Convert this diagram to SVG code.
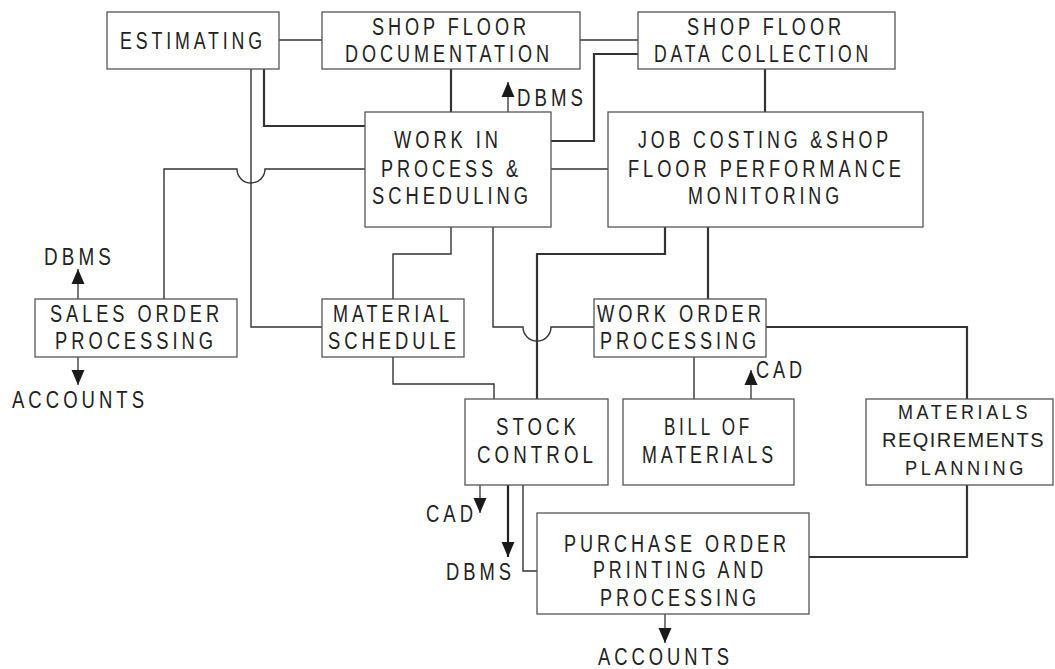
<svg xmlns="http://www.w3.org/2000/svg" width="1055" height="669" viewBox="0 0 1055 669">
<defs>
<style>
.box{fill:#fff;stroke:#555;stroke-width:1.3}
.t{font-family:"Liberation Sans Narrow","Liberation Sans",Arial,sans-serif;font-size:23px;fill:#222;letter-spacing:5px}
.s{font-size:20px;letter-spacing:4px}
.c{fill:none;stroke:#333;stroke-width:1.4}
.k{fill:none;stroke:#333;stroke-width:2.2}
.a{fill:none;stroke:#333;stroke-width:1.3}
.ak{fill:none;stroke:#222;stroke-width:2.2}
</style>
<marker id="ah" markerUnits="userSpaceOnUse" markerWidth="16" markerHeight="14" refX="15" refY="7" orient="auto">
<path d="M0,0.5 L15,7 L0,13.5 z" fill="#1a1a1a"/>
</marker>
</defs>
<rect width="1055" height="669" fill="#fff"/>
<g id="connectors">
<path class="c" d="M279,40 H322"/>
<path class="c" d="M580,40 H638"/>
<path class="k" d="M264,69 V126 H365"/>
<path class="c" d="M251,69 V327 H322"/>
<path class="c" d="M164,299 V169 H237 A14,14 0 0 0 265,169 H365"/>
<path class="k" d="M451,69 V112"/>
<path class="k" d="M638,54 H594 V141 H551"/>
<path class="c" d="M551,169 H608"/>
<path class="k" d="M765,69 V112"/>
<path class="c" d="M451,227 V254 H393 V299"/>
<path class="c" d="M493,227 V327 H523 A14,14 0 0 0 551,327 H594"/>
<path class="k" d="M665,227 V254 H537 V399"/>
<path class="k" d="M708,227 V299"/>
<path class="c" d="M393,357 V384 H494 V399"/>
<path class="c" d="M694,357 V399"/>
<path class="k" d="M766,327 H967 V399"/>
<path class="k" d="M967,485 V557 H809"/>
<path class="c" d="M523,485 V571 H537"/>
<path class="a" d="M508,112 V82" marker-end="url(#ah)"/>
<path class="a" d="M78,299 V269" marker-end="url(#ah)"/>
<path class="a" d="M78,357 V385" marker-end="url(#ah)"/>
<path class="a" d="M751,399 V370" marker-end="url(#ah)"/>
<path class="a" d="M480,485 V513" marker-end="url(#ah)"/>
<path class="ak" d="M508,485 V557" marker-end="url(#ah)"/>
<path class="a" d="M665,614 V643" marker-end="url(#ah)"/>
</g>
<g id="estimating">
<rect class="box" x="107" y="12" width="172" height="57"/>
<text class="t" x="120" y="49" textLength="146" lengthAdjust="spacingAndGlyphs">ESTIMATING</text>
</g>
<g id="shop-floor-documentation">
<rect class="box" x="322" y="12" width="258" height="57"/>
<text class="t" x="372" y="35" textLength="158" lengthAdjust="spacingAndGlyphs">SHOP FLOOR</text>
<text class="t" x="345" y="62" textLength="208" lengthAdjust="spacingAndGlyphs">DOCUMENTATION</text>
</g>
<g id="shop-floor-data-collection">
<rect class="box" x="638" y="12" width="257" height="57"/>
<text class="t" x="687" y="35" textLength="158" lengthAdjust="spacingAndGlyphs">SHOP FLOOR</text>
<text class="t" x="654" y="62" textLength="218" lengthAdjust="spacingAndGlyphs">DATA COLLECTION</text>
</g>
<g id="work-in-process">
<rect class="box" x="365" y="112" width="186" height="115"/>
<text class="t" x="394" y="148" textLength="108" lengthAdjust="spacingAndGlyphs">WORK IN</text>
<text class="t" x="381" y="177" textLength="141" lengthAdjust="spacingAndGlyphs">PROCESS &amp;</text>
<text class="t" x="372" y="204" textLength="160" lengthAdjust="spacingAndGlyphs">SCHEDULING</text>
</g>
<g id="job-costing">
<rect class="box" x="608" y="112" width="315" height="115"/>
<text class="t" x="638" y="148" textLength="254" lengthAdjust="spacingAndGlyphs">JOB COSTING &amp;SHOP</text>
<text class="t" x="628" y="177" textLength="277" lengthAdjust="spacingAndGlyphs">FLOOR PERFORMANCE</text>
<text class="t" x="688" y="204" textLength="155" lengthAdjust="spacingAndGlyphs">MONITORING</text>
</g>
<g id="sales-order-processing">
<rect class="box" x="35" y="299" width="202" height="58"/>
<text class="t" x="50" y="322" textLength="173" lengthAdjust="spacingAndGlyphs">SALES ORDER</text>
<text class="t" x="55" y="349" textLength="162" lengthAdjust="spacingAndGlyphs">PROCESSING</text>
</g>
<g id="material-schedule">
<rect class="box" x="322" y="299" width="142" height="58"/>
<text class="t" x="333" y="322" textLength="120" lengthAdjust="spacingAndGlyphs">MATERIAL</text>
<text class="t" x="328" y="349" textLength="132" lengthAdjust="spacingAndGlyphs">SCHEDULE</text>
</g>
<g id="work-order-processing">
<rect class="box" x="594" y="299" width="172" height="58"/>
<text class="t" x="597" y="322" textLength="168" lengthAdjust="spacingAndGlyphs">WORK ORDER</text>
<text class="t" x="600" y="349" textLength="160" lengthAdjust="spacingAndGlyphs">PROCESSING</text>
</g>
<g id="stock-control">
<rect class="box" x="465" y="399" width="143" height="86"/>
<text class="t" x="496" y="435" textLength="84" lengthAdjust="spacingAndGlyphs">STOCK</text>
<text class="t" x="477" y="463" textLength="120" lengthAdjust="spacingAndGlyphs">CONTROL</text>
</g>
<g id="bill-of-materials">
<rect class="box" x="623" y="399" width="171" height="86"/>
<text class="t" x="664" y="435" textLength="89" lengthAdjust="spacingAndGlyphs">BILL OF</text>
<text class="t" x="642" y="463" textLength="135" lengthAdjust="spacingAndGlyphs">MATERIALS</text>
</g>
<g id="materials-requirements-planning">
<rect class="box" x="866" y="399" width="187" height="86"/>
<text class="t s" x="898" y="419" textLength="133" lengthAdjust="spacingAndGlyphs">MATERIALS</text>
<text class="t s" x="882" y="447" textLength="163" lengthAdjust="spacingAndGlyphs" style="letter-spacing:1.5px">REQIREMENTS</text>
<text class="t s" x="905" y="475" textLength="122" lengthAdjust="spacingAndGlyphs">PLANNING</text>
</g>
<g id="purchase-order">
<rect class="box" x="537" y="513" width="272" height="101"/>
<text class="t" x="564" y="552" textLength="226" lengthAdjust="spacingAndGlyphs">PURCHASE ORDER</text>
<text class="t" x="593" y="578" textLength="174" lengthAdjust="spacingAndGlyphs">PRINTING AND</text>
<text class="t" x="600" y="606" textLength="160" lengthAdjust="spacingAndGlyphs">PROCESSING</text>
</g>
<g id="labels">
<text class="t" x="517" y="106" textLength="70" lengthAdjust="spacingAndGlyphs">DBMS</text>
<text class="t" x="44" y="265" textLength="71" lengthAdjust="spacingAndGlyphs">DBMS</text>
<text class="t" x="12" y="408" textLength="136" lengthAdjust="spacingAndGlyphs">ACCOUNTS</text>
<text class="t" x="756" y="378" textLength="50" lengthAdjust="spacingAndGlyphs">CAD</text>
<text class="t" x="426" y="522" textLength="51" lengthAdjust="spacingAndGlyphs">CAD</text>
<text class="t" x="446" y="580" textLength="69" lengthAdjust="spacingAndGlyphs">DBMS</text>
<text class="t" x="598" y="665" textLength="135" lengthAdjust="spacingAndGlyphs">ACCOUNTS</text>
</g>
</svg>
